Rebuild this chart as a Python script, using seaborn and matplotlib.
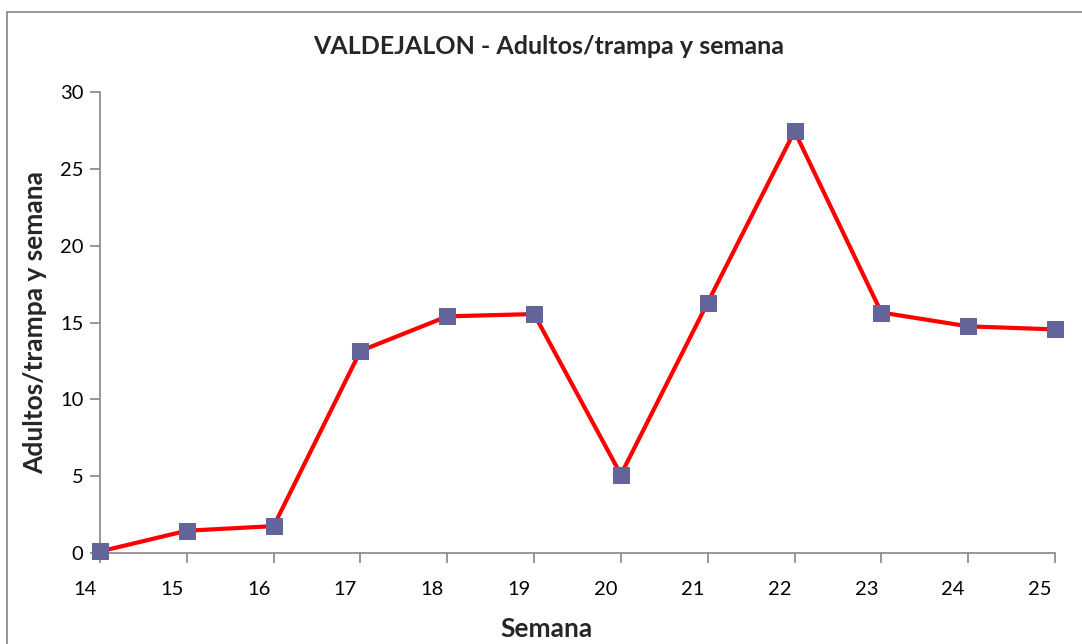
import matplotlib

matplotlib.use("Agg")
import matplotlib.pyplot as plt
import matplotlib.transforms as mtransforms
from matplotlib.patches import Rectangle
import pandas as pd
import seaborn as sns

WEEKS = [14, 15, 16, 17, 18, 19, 20, 21, 22, 23, 24, 25]
ADULTS = [0.1, 1.45, 1.75, 13.15, 15.4, 15.55, 5.1, 16.3, 27.45, 15.65, 14.75, 14.55]
Y_TICKS = [0, 5, 10, 15, 20, 25, 30]

TITLE = "VALDEJALON - Adultos/trampa y semana"
X_LABEL = "Semana"
Y_LABEL = "Adultos/trampa y semana"

AXIS_GREY = "#868686"

sns.set_style("white")
plt.rcParams["font.family"] = ["Lato", "DejaVu Sans"]

df = pd.DataFrame({"week": WEEKS, "adults": ADULTS})

fig = plt.figure(figsize=(10.82, 6.44), dpi=100)
ax = fig.add_axes([100 / 1082, 1 - 553 / 644, 955 / 1082, 461 / 644])

sns.lineplot(data=df, x="week", y="adults", color="#ff0000", linewidth=3,
             marker="s", markersize=11.5, markerfacecolor="#62649a",
             markeredgecolor="#62649a", ax=ax, zorder=3, clip_on=False)

ax.set_xlim(14, 25)
ax.set_ylim(0, 30)
ax.set_xticks(WEEKS)
ax.set_xticklabels([str(w) for w in WEEKS])
ax.set_yticks(Y_TICKS)

for side in ("top", "right"):
    ax.spines[side].set_visible(False)
for side in ("left", "bottom"):
    ax.spines[side].set_color(AXIS_GREY)
    ax.spines[side].set_linewidth(1.2)

ax.tick_params(axis="both", direction="out", length=7, width=1.2,
               color=AXIS_GREY, labelsize=14.5, labelcolor="black",
               bottom=True, left=True)
ax.tick_params(axis="x", pad=13)
ax.tick_params(axis="y", pad=5)

# Excel-style offset: category labels sit a bit left of their ticks
shift = mtransforms.ScaledTranslation(-15 / 100, 0, fig.dpi_scale_trans)
for lbl in ax.get_xticklabels():
    lbl.set_transform(lbl.get_transform() + shift)

ax.set_xlabel(X_LABEL, fontsize=19, fontweight="bold")
ax.xaxis.set_label_coords(447 / 955, -64 / 461)
ax.set_ylabel(Y_LABEL, fontsize=19, fontweight="bold")
ax.yaxis.set_label_coords(-53 / 955, 0.5)

fig.text(549 / 1082, 1 - 47 / 644, TITLE, ha="center", va="center",
         fontsize=18, fontweight="bold")

fig.patches.append(Rectangle((7 / 1082, -0.1), 1.2, 1 - 12 / 644 + 0.1,
                             transform=fig.transFigure, fill=False,
                             edgecolor=AXIS_GREY, linewidth=1.2))

fig.savefig("out.png", dpi=100)
